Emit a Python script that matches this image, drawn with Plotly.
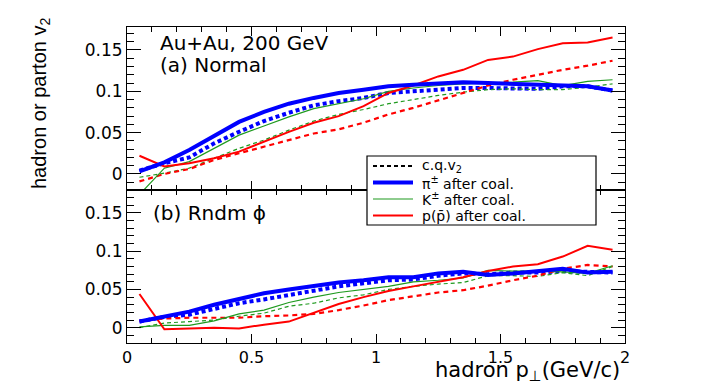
import plotly.graph_objects as go

# pT bin centres (GeV/c)
pt = [0.05, 0.15, 0.25, 0.35, 0.45, 0.55, 0.65, 0.75, 0.85, 0.95,
      1.05, 1.15, 1.25, 1.35, 1.45, 1.55, 1.65, 1.75, 1.85, 1.95]

# (a) Normal
pi_a = [0.003, 0.014, 0.029, 0.046, 0.063, 0.075, 0.085, 0.092, 0.098, 0.102,
        0.106, 0.108, 0.109, 0.111, 0.110, 0.109, 0.107, 0.107, 0.106, 0.101]
pi_cq_a = [0.004, 0.013, 0.020, 0.037, 0.051, 0.064, 0.074, 0.083, 0.088, 0.092,
           0.098, 0.100, 0.103, 0.104, 0.104, 0.103, 0.103, 0.106, 0.106, 0.101]
k_a = [-0.025, 0.007, 0.015, 0.031, 0.047, 0.058, 0.069, 0.079, 0.085, 0.091,
       0.100, 0.104, 0.107, 0.109, 0.110, 0.111, 0.113, 0.107, 0.112, 0.114]
k_cq_a = [-0.004, 0.001, 0.007, 0.019, 0.031, 0.041, 0.053, 0.064, 0.072, 0.078,
          0.085, 0.090, 0.095, 0.099, 0.102, 0.103, 0.102, 0.102, 0.105, 0.109]
p_a = [0.022, 0.009, 0.013, 0.019, 0.027, 0.039, 0.051, 0.062, 0.070, 0.082,
       0.098, 0.107, 0.118, 0.126, 0.138, 0.142, 0.151, 0.158, 0.159, 0.165]
p_cq_a = [-0.009, 0.000, 0.006, 0.017, 0.025, 0.033, 0.041, 0.049, 0.054, 0.062,
          0.072, 0.080, 0.089, 0.098, 0.107, 0.114, 0.120, 0.126, 0.131, 0.137]

# (b) Rndm phi
pi_b = [0.008, 0.015, 0.021, 0.030, 0.038, 0.045, 0.050, 0.055, 0.059, 0.062,
        0.066, 0.066, 0.071, 0.073, 0.069, 0.071, 0.074, 0.077, 0.072, 0.073]
pi_cq_b = [0.008, 0.014, 0.017, 0.024, 0.032, 0.037, 0.043, 0.049, 0.054, 0.058,
           0.062, 0.063, 0.068, 0.071, 0.070, 0.072, 0.072, 0.074, 0.073, 0.072]
k_b = [0.001, 0.003, 0.003, 0.009, 0.018, 0.023, 0.033, 0.040, 0.046, 0.050,
       0.054, 0.060, 0.062, 0.065, 0.075, 0.074, 0.074, 0.073, 0.071, 0.081]
k_cq_b = [0.000, 0.006, 0.008, 0.010, 0.015, 0.019, 0.028, 0.032, 0.039, 0.043,
          0.050, 0.054, 0.057, 0.059, 0.068, 0.068, 0.067, 0.072, 0.068, 0.080]
p_b = [0.044, -0.002, -0.001, 0.000, -0.001, 0.004, 0.008, 0.019, 0.031, 0.040,
       0.048, 0.054, 0.060, 0.066, 0.074, 0.080, 0.083, 0.093, 0.107, 0.102]
p_cq_b = [0.009, 0.012, 0.013, 0.013, 0.013, 0.015, 0.016, 0.018, 0.023, 0.029,
          0.036, 0.041, 0.046, 0.049, 0.055, 0.062, 0.068, 0.077, 0.082, 0.080]

legend_labels = ['c.q.v<sub>2</sub>', 'π<sup>±</sup> after coal.',
                 'K<sup>±</sup> after coal.', 'p(p̄) after coal.']

BLUE = '#0000ff'
GREEN = '#1f9a1f'
RED = '#ff0000'
FONT = 'DejaVu Sans'

styles = {
    'pi': dict(color=BLUE, width=4),
    'pi_cq': dict(color=BLUE, width=4, dash='4px,3px'),
    'k': dict(color=GREEN, width=1.2),
    'k_cq': dict(color=GREEN, width=1.2, dash='4px,3px'),
    'p': dict(color=RED, width=2),
    'p_cq': dict(color=RED, width=2.2, dash='5px,4px'),
    'cq': dict(color='black', width=2, dash='4px,3px'),
}

# page is drawn with an 8px body margin, so work in page pixels
OFF = 8
W, H = 706 - OFF, 382 - OFF


def px(x):
    return (x - OFF) / W


def py(y):
    return (382 - y) / H


fig = go.Figure()

panels = [('x', 'y', pi_a, pi_cq_a, k_a, k_cq_a, p_a, p_cq_a),
          ('x2', 'y2', pi_b, pi_cq_b, k_b, k_cq_b, p_b, p_cq_b)]
for xa, ya, pi, pi_cq, k, k_cq, p, p_cq in panels:
    series = [('pi_cq', pi_cq), ('k_cq', k_cq), ('p_cq', p_cq),
              ('k', k), ('p', p), ('pi', pi)]
    for key, vals in series:
        fig.add_trace(go.Scatter(x=pt, y=vals, mode='lines', xaxis=xa, yaxis=ya,
                                 line=styles[key], name=key, showlegend=False))

axis_common = dict(showline=True, linecolor='black', linewidth=1, mirror='allticks',
                   ticks='inside', tickcolor='black', showgrid=False, zeroline=False,
                   automargin=False,
                   tickfont=dict(family=FONT, size=17, color='black'))
xax = dict(axis_common, range=[0, 2], dtick=0.5, ticklen=9,
           tickfont=dict(family=FONT, size=16, color='black'),
           minor=dict(dtick=0.1, ticklen=5, ticks='inside', tickcolor='black'))
yax = dict(axis_common, dtick=0.05, ticklen=14,
           minor=dict(dtick=0.01, ticklen=7, ticks='inside', tickcolor='black'))

xdom = [px(127), px(625)]
fig.update_layout(
    width=W, height=H, autosize=False,
    margin=dict(l=0, r=0, t=0, b=0),
    paper_bgcolor='white', plot_bgcolor='white',
    showlegend=False,
    xaxis=dict(xax, domain=xdom, anchor='y', showticklabels=False),
    yaxis=dict(yax, domain=[py(190), py(27)], anchor='x', range=[-0.0194, 0.1778]),
    xaxis2=dict(xax, domain=xdom, anchor='y2'),
    yaxis2=dict(yax, domain=[py(343), py(190)], anchor='x2', range=[-0.020, 0.180]),
    font=dict(family=FONT, color='black'),
)

# legend box drawn by hand (ROOT TLegend look)
fig.add_shape(type='rect', xref='paper', yref='paper', x0=px(367), x1=px(596),
              y0=py(225), y1=py(156), line=dict(color='black', width=1.2),
              fillcolor='white', layer='above')
for i, (label, key) in enumerate(zip(legend_labels, ['cq', 'pi', 'k', 'p'])):
    yy = py(166 + i * 16.5)
    fig.add_shape(type='line', xref='paper', yref='paper', x0=px(373), x1=px(413),
                  y0=yy, y1=yy, line=styles[key], layer='above')
    fig.add_annotation(xref='paper', yref='paper', x=px(421), y=yy, text=label,
                       showarrow=False, xanchor='left', yanchor='middle', borderpad=0,
                       font=dict(family=FONT, size=14, color='black'))

ann = dict(xref='paper', yref='paper', showarrow=False, borderpad=0,
           font=dict(family=FONT, size=20, color='black'))
fig.add_annotation(ann, text='Au+Au, 200 GeV', x=px(159), y=py(43), xanchor='left', yanchor='middle')
fig.add_annotation(ann, text='(a) Normal', x=px(159), y=py(65), xanchor='left', yanchor='middle')
fig.add_annotation(ann, text='(b) Rndm ϕ', x=px(152), y=py(213), xanchor='left', yanchor='middle')
fig.add_annotation(ann, text='hadron p<sub>⊥</sub>(GeV/c)', x=px(621), y=py(370.5),
                   xanchor='right', yanchor='middle', font=dict(family=FONT, size=21, color='black'))
fig.add_annotation(ann, text='hadron or parton v<sub>2</sub>', x=px(40), y=py(104),
                   xanchor='center', yanchor='middle', textangle=-90,
                   font=dict(family='Liberation Sans', size=20, color='black'))

fig.write_html("out.html")
